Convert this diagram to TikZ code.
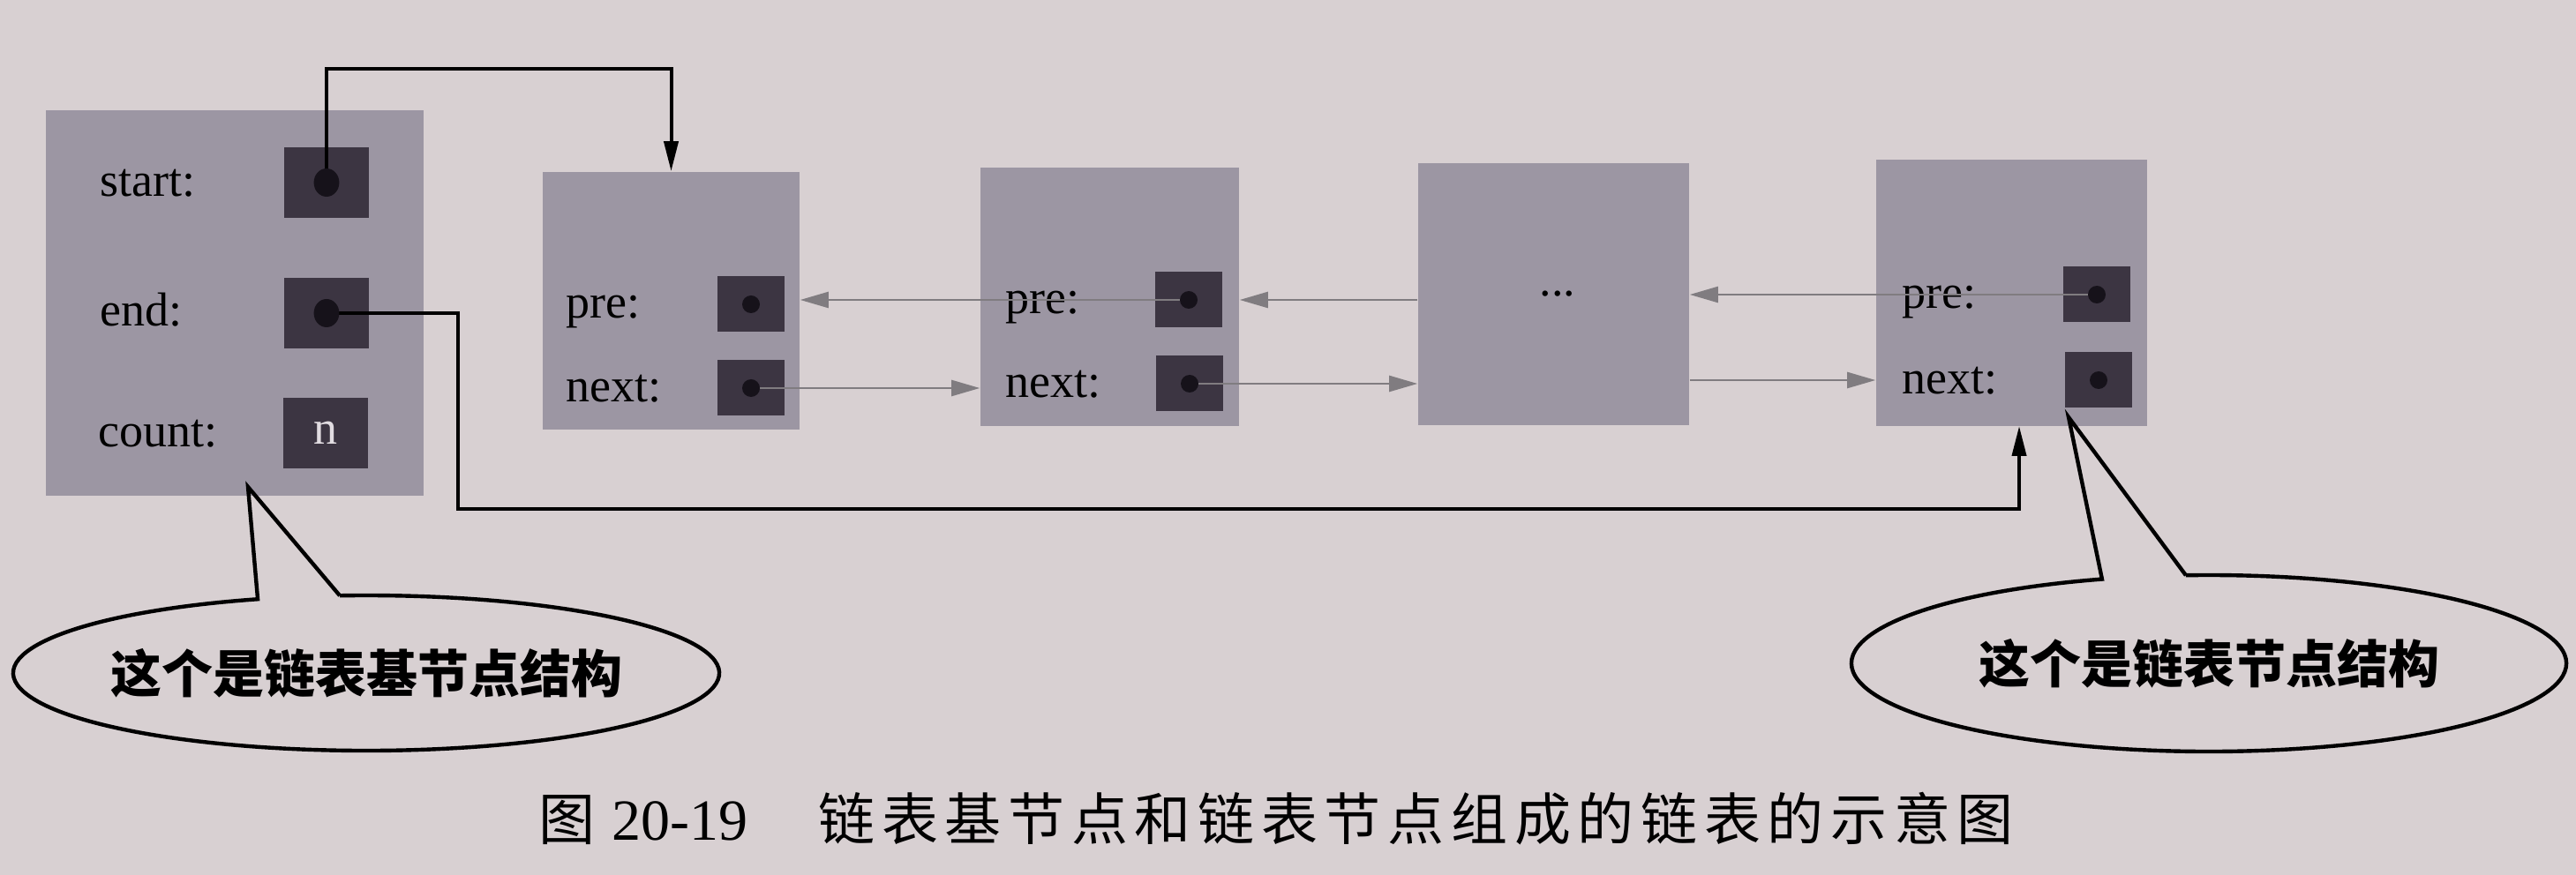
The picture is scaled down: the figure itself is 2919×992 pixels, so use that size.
\documentclass[tikz,border=0pt]{standalone}
\usepackage{fontspec}
\setmainfont{Liberation Serif}
\newfontfamily\cjk{Noto Sans CJK SC}
\newfontfamily\capfont[LetterSpace=12]{Noto Sans CJK SC}
\usetikzlibrary{arrows.meta,calc,fit}
\definecolor{paper}{RGB}{216,208,210}
\definecolor{boxc}{RGB}{156,150,163}
\definecolor{cellc}{RGB}{60,53,66}
\definecolor{dotc}{RGB}{22,18,26}
\definecolor{glin}{RGB}{128,124,128}
\definecolor{ntext}{RGB}{225,220,225}
\begin{document}
\begin{tikzpicture}[x=0.25pt,y=-0.25pt,
  box/.style={fill=boxc,draw=none,inner sep=0pt},
  cellbig/.style={fill=cellc,draw=none,inner sep=0pt,minimum width=24pt,minimum height=20pt},
  cellsm/.style={fill=cellc,draw=none,inner sep=0pt,minimum width=19pt,minimum height=15.75pt},
  lab/.style={anchor=base west,inner sep=0pt,font=\fontsize{13.5pt}{16pt}\selectfont},
  garrow/.style={draw=glin,line width=0.6pt,-{Triangle[length=8pt,width=4.5pt,fill=glin]}},
  barrow/.style={draw=black,line width=1pt,-{Triangle[length=8.5pt,width=4pt]}},
  calloutline/.style={draw=black,line width=1.1pt,line join=miter},
  calltext/.style={inner sep=0pt,font=\fontsize{14.5pt}{17pt}\cjk\bfseries},
  bigdot/.style={fill=dotc},
]
\fill[paper] (0,0) rectangle (2919,992);
\useasboundingbox (0,0) rectangle (2919,992);

% base node
\node[box,fit={(52,125)(480,562)}] (base) {};
\node[cellbig] (sd) at (370,207) {};
\node[cellbig] (ed) at (370,355) {};
\node[cellbig,text=ntext,font=\fontsize{13.5pt}{16pt}\selectfont] (cd) at (369,491) {n};
\node[lab] (lstart) at (113,223) {start:};
\node[lab] (lend) at (113,370) {end:};
\node[lab] (lcount) at (111,507) {count:};

% list nodes
\node[box,fit={(615,195)(906,487)}] (n1) {};
\node[box,fit={(1111,190)(1404,483)}] (n2) {};
\node[box,fit={(1607,185)(1914,482)}] (n3) {};
\node[box,fit={(2126,181)(2433,483)}] (n4) {};

\node[cellsm] (n1p) at (851,345) {};
\node[cellsm] (n1n) at (851,440) {};
\node[cellsm] (n2p) at (1347,340) {};
\node[cellsm] (n2n) at (1348,435) {};
\node[cellsm] (n4p) at (2376,334) {};
\node[cellsm] (n4n) at (2378,431) {};

\node[lab] (n1pl) at (641,361) {pre:};
\node[lab] (n1nl) at (641,456) {next:};
\node[lab] (n2pl) at (1139,356) {pre:};
\node[lab] (n2nl) at (1139,451) {next:};
\node[lab] (n4pl) at (2155,350) {pre:};
\node[lab] (n4nl) at (2155,447) {next:};
\node[anchor=base,inner sep=0pt,font=\fontsize{13.5pt}{16pt}\selectfont] (dots) at (1765,336) {...};

% gray links
\draw[garrow] (n1n.center) -- (n1n.center -| n2.west);
\draw[garrow] (n2p.center) -- (n2p.center -| n1.east);
\draw[garrow] (n2n.center) -- (n2n.center -| n3.west);
\draw[garrow] (n3.west |- n2p.center) -- (n2.east |- n2p.center);
\draw[garrow] (n3.east |- n4n.center) -- (n4.west |- n4n.center);
\draw[garrow] (n4p.center) -- (n4p.center -| n3.east);

% black links
\coordinate (ec) at (519,577);
\coordinate (n4in) at (2288,483);
\draw[barrow] (sd.center) -- ++(0,-129) -| (n1.north);
\draw[barrow] (ed.center) -| (ec) -| (n4in);

% dots
\fill[bigdot] (sd.center) ellipse [x radius=3.6pt,y radius=4pt];
\fill[bigdot] (ed.center) ellipse [x radius=3.6pt,y radius=4pt];
\foreach \c in {n1p,n1n,n2p,n2n,n4p,n4n}{\fill[bigdot] (\c.center) circle[radius=2.5pt];}

% callouts
\node[calltext] (cl) at (415,763) {这个是链表基节点结构};
\coordinate (tl) at (281,552);
\draw[calloutline] ($(cl.center)+(94.3:100pt and 22pt)$) -- (tl) -- ($(cl.center)+(107.9:100pt and 22pt)$)
  arc[start angle=107.9,end angle=454.3,x radius=100pt,y radius=22pt];

\node[calltext] (cr) at (2503,752) {这个是链表节点结构};
\coordinate (tr) at (2344,473);
\draw[calloutline] ($(cr.center)+(93.7:101.25pt and 25pt)$) -- (tr) -- ($(cr.center)+(107.4:101.25pt and 25pt)$)
  arc[start angle=107.4,end angle=453.7,x radius=101.25pt,y radius=25pt];

% caption
\node[anchor=west,inner sep=0pt] (cap) at (610,928)
  {{\fontsize{16pt}{18pt}\capfont 图}\hspace{4.7pt}{\fontsize{16.5pt}{18pt}\selectfont 20-19}\hspace{20pt}{\fontsize{16pt}{18pt}\capfont 链表基节点和链表节点组成的链表的示意图}};
\end{tikzpicture}
\end{document}
